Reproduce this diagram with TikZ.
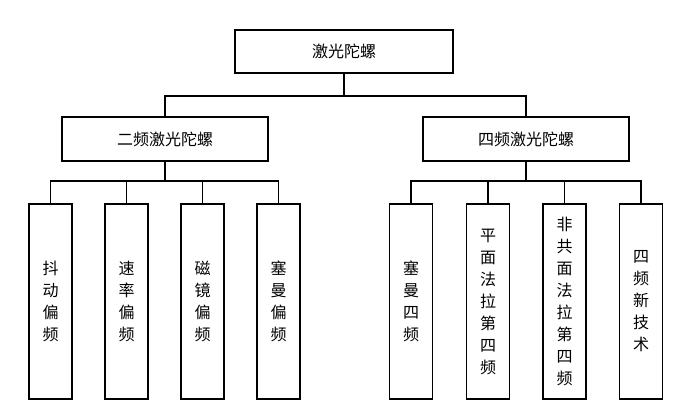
\documentclass[tikz,border=0pt]{standalone}
\usepackage{fontspec}
\setmainfont{Noto Sans CJK SC}
\usepackage{tikz}
\usetikzlibrary{positioning}

\begin{document}
\begin{tikzpicture}[x=1pt,y=-1pt, line width=1.4pt,
  cjk/.style={font=\fontsize{16}{22}\selectfont},
  topbox/.style={draw,cjk,minimum width=218pt,minimum height=43pt,inner sep=0pt},
  midbox/.style={draw,cjk,minimum width=206pt,minimum height=44pt,inner sep=0pt},
  leafbox/.style={draw,cjk,align=center,minimum width=43pt,minimum height=195pt,inner sep=0pt}]
  \useasboundingbox (0,0) rectangle (693,413);
% --- root and the two families ---
  \node[topbox] (gyro) at (344,51.5) {激光陀螺};
  \node[midbox] (two) at (165,139) {二频激光陀螺};
  \node[midbox] (four) at (526,139) {四频激光陀螺};
% --- two-frequency branch ---
  \node[leafbox] (dither) at (50.5,301.5) {抖\\动\\偏\\频};
  \node[leafbox] (rate) at (126.5,301.5) {速\\率\\偏\\频};
  \node[leafbox] (mirror) at (202.5,301.5) {磁\\镜\\偏\\频};
  \node[leafbox] (zeemanA) at (278.5,301.5) {塞\\曼\\偏\\频};
% --- four-frequency branch ---
  \node[leafbox] (zeemanB) at (411,301.5) {塞\\曼\\四\\频};
  \node[leafbox] (planar) at (488,301.5) {平\\面\\法\\拉\\第\\四\\频};
  \node[leafbox] (nonplanar) at (564.5,301.5) {非\\共\\面\\法\\拉\\第\\四\\频};
  \node[leafbox] (newtech) at (641,301.5) {四\\频\\新\\技\\术};
% --- connectors ---
  \coordinate (busT) at (344,96);
  \coordinate (busL) at (165,181);
  \coordinate (busR) at (526,181);
  \draw (gyro.south) -- (busT);
  \draw (two.north) |- (busT) -| (four.north);
  \draw (two.south) -- (busL);
  \draw (dither.north) |- (busL) -| (zeemanA.north);
  \draw (rate.north) |- (busL);
  \draw (mirror.north) |- (busL);
  \draw (four.south) -- (busR);
  \draw (zeemanB.north) |- (busR) -| (newtech.north);
  \draw (planar.north) |- (busR);
  \draw (nonplanar.north) |- (busR);
\end{tikzpicture}
\end{document}
